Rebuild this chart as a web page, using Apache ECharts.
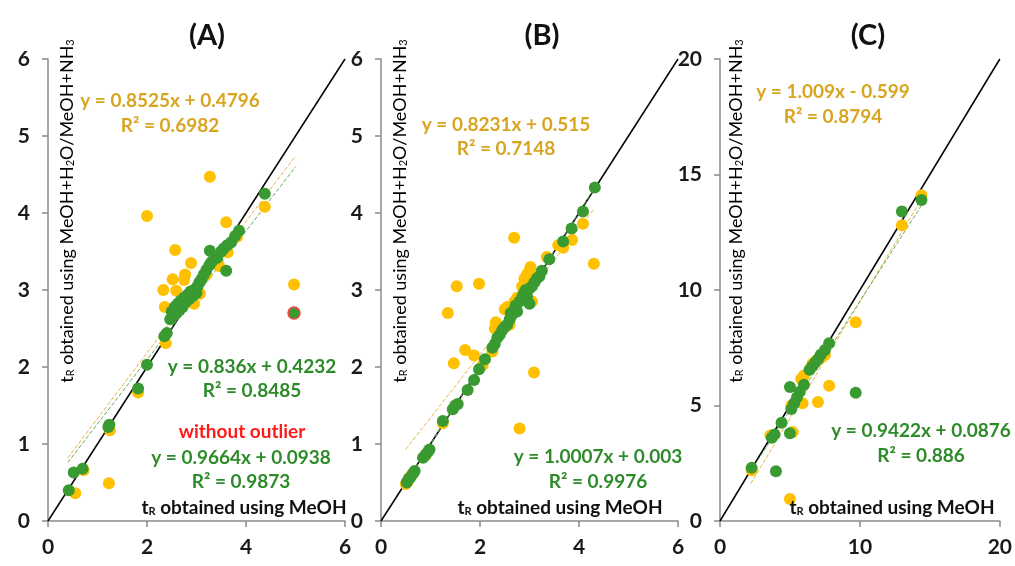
<!DOCTYPE html>
<html>
<head>
<meta charset="utf-8">
<script src="https://cdn.jsdelivr.net/npm/echarts@6/dist/echarts.min.js"></script>
<style>html,body{margin:0;padding:0;background:#fff}#c{width:1015px;height:566px}</style>
</head>
<body>
<div id="c"></div>
<script>
// ---------- data ----------
const panelTitles = ['(A)', '(B)', '(C)'];
const axisMax = [6, 6, 20];
const xTickInterval = [2, 2, 10];
const yTickInterval = [1, 1, 5];

const yellowA = [[0.55,0.36],[0.72,0.66],[1.23,0.49],[1.25,1.18],[1.82,1.67],[2.00,3.96],[2.38,2.31],[2.36,2.78],[2.33,3.00],[2.52,3.14],[2.57,3.52],[2.59,2.99],[2.75,3.13],[2.77,3.20],[2.89,3.35],[2.62,2.72],[2.70,2.80],[2.85,2.85],[2.95,2.82],[3.07,2.95],[3.20,3.20],[3.27,4.47],[3.46,3.31],[3.60,3.88],[3.63,3.49],[3.82,3.69],[4.38,4.08],[4.97,3.07]];
const greenA = [[0.42,0.40],[0.52,0.63],[0.70,0.68],[1.22,1.22],[1.24,1.25],[1.82,1.72],[2.00,2.03],[2.35,2.40],[2.40,2.44],[2.47,2.62],[2.50,2.72],[2.52,2.66],[2.56,2.78],[2.60,2.70],[2.62,2.82],[2.66,2.74],[2.68,2.86],[2.72,2.78],[2.75,2.90],[2.78,2.84],[2.82,2.94],[2.85,2.88],[2.88,2.98],[2.92,2.92],[2.95,3.00],[3.00,2.96],[3.02,3.05],[3.06,3.10],[3.10,3.14],[3.15,3.20],[3.20,3.26],[3.27,3.51],[3.26,3.32],[3.30,3.36],[3.35,3.40],[3.42,3.42],[3.50,3.50],[3.55,3.54],[3.60,3.25],[3.62,3.58],[3.70,3.62],[3.78,3.70],[3.86,3.77],[4.38,4.25]];
const greenAOutlier = [[4.97,2.70]];

const yellowB = [[0.50,0.48],[0.55,0.52],[0.62,0.60],[0.90,0.85],[1.25,1.27],[1.35,2.70],[1.47,2.05],[1.53,3.05],[1.70,2.22],[1.88,2.15],[1.98,3.08],[2.05,2.02],[2.25,2.20],[2.30,2.50],[2.32,2.58],[2.40,2.45],[2.50,2.75],[2.55,2.78],[2.60,2.55],[2.70,2.85],[2.69,3.68],[2.75,2.90],[2.80,1.20],[2.85,3.05],[2.90,3.15],[2.95,3.20],[3.00,3.25],[3.02,3.30],[3.05,2.85],[3.09,1.93],[3.20,3.20],[3.35,3.43],[3.58,3.58],[3.68,3.55],[3.86,3.65],[4.08,3.86],[4.30,3.34]];
const greenB = [[0.52,0.50],[0.56,0.55],[0.60,0.57],[0.65,0.62],[0.68,0.65],[0.85,0.82],[0.90,0.86],[0.95,0.90],[0.98,0.93],[1.25,1.30],[1.45,1.45],[1.50,1.50],[1.55,1.52],[1.75,1.70],[1.88,1.83],[1.98,1.97],[2.10,2.10],[2.25,2.25],[2.30,2.30],[2.35,2.38],[2.40,2.42],[2.45,2.48],[2.50,2.52],[2.55,2.55],[2.60,2.62],[2.62,2.70],[2.65,2.68],[2.70,2.75],[2.72,2.80],[2.75,2.72],[2.80,2.85],[2.85,2.90],[2.88,2.95],[2.92,3.00],[2.95,2.92],[3.00,2.82],[3.00,3.02],[3.05,3.05],[3.10,3.10],[3.15,3.15],[3.20,3.18],[3.25,3.25],[3.40,3.40],[3.68,3.63],[3.85,3.80],[4.08,4.02],[4.32,4.33]];

const yellowC = [[2.26,2.20],[3.60,3.70],[5.00,0.95],[5.20,3.85],[5.10,5.00],[5.90,5.10],[5.80,6.15],[6.00,6.30],[6.60,6.80],[6.80,6.90],[7.00,5.15],[7.30,7.10],[7.80,5.85],[7.50,7.20],[9.70,8.60],[13.00,12.80],[14.40,14.10]];
const greenC = [[2.26,2.30],[3.70,3.60],[3.90,3.75],[4.00,2.15],[4.40,4.25],[5.00,3.80],[5.10,4.85],[5.30,5.10],[5.50,5.35],[5.70,5.60],[5.00,5.80],[6.00,5.90],[6.40,6.55],[6.60,6.70],[6.80,6.85],[7.00,7.00],[7.20,7.20],[7.50,7.40],[7.80,7.70],[9.70,5.55],[13.00,13.40],[14.40,13.90]];

// trend-line end points
const trendYellowA = [[0.40,0.82],[5.00,4.74]];
const trendGreenA  = [[0.40,0.76],[5.00,4.60]];
const trendYellowB = [[0.50,0.93],[4.30,4.05]];
const trendGreenB  = [[0.50,0.50],[4.32,4.33]];
const trendYellowC = [[2.20,1.62],[14.40,13.93]];
const trendGreenC  = [[2.20,2.16],[14.40,13.66]];
// 1:1 lines
const identityA = [[0,0],[6,6]];
const identityB = [[0,0],[6,6]];
const identityC = [[0,0],[20,20]];

const eqYellow = [['y = 0.8525x + 0.4796','R² = 0.6982'],['y = 0.8231x + 0.515','R² = 0.7148'],['y = 1.009x - 0.599','R² = 0.8794']];
const eqGreen = [['y = 0.836x + 0.4232','R² = 0.8485'],['y = 1.0007x + 0.003','R² = 0.9976'],['y = 0.9422x + 0.0876','R² = 0.886']];
const eqOutlier = ['without outlier','y = 0.9664x + 0.0938','R² = 0.9873'];

// ---------- layout / style ----------
const FONT = 'Lato';
const YEL = '#FFC000', GRN = '#3A9A32';
const YEL_T = '#D9A520', GRN_T = '#2E8B2A';
const grids = [
  {left:48, top:59, width:297, height:462},
  {left:381, top:59, width:297, height:462},
  {left:720, top:59, width:280, height:462}
];
const axCol = '#8a8a8a';

const xAxis = [], yAxis = [], series = [];
const sets = [
  [yellowA, greenA, trendYellowA, trendGreenA, identityA],
  [yellowB, greenB, trendYellowB, trendGreenB, identityB],
  [yellowC, greenC, trendYellowC, trendGreenC, identityC]
];
for (let i = 0; i < 3; i++) {
  const common = {
    gridIndex:i, type:'value', min:0, max:axisMax[i],
    splitLine:{show:false},
    axisLine:{show:true, lineStyle:{color:axCol, width:1.5}},
    axisTick:{show:true, length:6, lineStyle:{color:axCol, width:1.5}},
    axisLabel:{fontFamily:FONT, fontWeight:'bold', fontSize:21, color:'#1a1a1a'}
  };
  xAxis.push(Object.assign({}, common, {interval:xTickInterval[i], axisLabel:Object.assign({}, common.axisLabel, {margin:16})}));
  yAxis.push(Object.assign({}, common, {interval:yTickInterval[i], axisLabel:Object.assign({}, common.axisLabel, {margin:18})}));
  const [yel, grn, ty, tg, id] = sets[i];
  series.push({type:'line', xAxisIndex:i, yAxisIndex:i, data:id, symbol:'none', silent:true,
    lineStyle:{color:'#000', width:1.5}, z:2});
  series.push({type:'line', xAxisIndex:i, yAxisIndex:i, data:ty, symbol:'none',
    lineStyle:{color:'#E8B43A', width:1, type:[4,2]}, z:3});
  series.push({type:'line', xAxisIndex:i, yAxisIndex:i, data:tg, symbol:'none',
    lineStyle:{color:'#5FAF55', width:1, type:[4,2]}, z:3});
  series.push({type:'scatter', xAxisIndex:i, yAxisIndex:i, data:yel, symbolSize:12,
    itemStyle:{color:YEL, opacity:1}, z:4});
  series.push({type:'scatter', xAxisIndex:i, yAxisIndex:i, data:grn, symbolSize:12,
    itemStyle:{color:GRN, opacity:1}, z:5});
}
series.push({type:'scatter', xAxisIndex:0, yAxisIndex:0, data:greenAOutlier, symbolSize:12,
  itemStyle:{color:GRN, borderColor:'#ff4040', borderWidth:1.5, opacity:1}, z:6});

// ---------- texts ----------
const graphic = [];
function txt(x, y, text, size, color, weight, align) {
  graphic.push({type:'text', x:x, y:y, z:100, style:{text:text, fill:color, fontFamily:FONT,
    fontSize:size, fontWeight:weight||'bold', align:align||'center', verticalAlign:'middle'}});
}
const titleX = [207, 542, 868];
for (let i = 0; i < 3; i++) txt(titleX[i], 36, panelTitles[i], 29, '#111');

// equations
txt(170, 101, eqYellow[0][0], 19, YEL_T); txt(170, 126, eqYellow[0][1], 19, YEL_T);
txt(252, 367, eqGreen[0][0], 19, GRN_T); txt(252, 391, eqGreen[0][1], 19, GRN_T);
txt(242, 432, eqOutlier[0], 19, '#FF1A1A');
txt(241, 458, eqOutlier[1], 19, GRN_T); txt(241, 482, eqOutlier[2], 19, GRN_T);

txt(506, 125, eqYellow[1][0], 19, YEL_T); txt(506, 149, eqYellow[1][1], 19, YEL_T);
txt(598, 457, eqGreen[1][0], 19, GRN_T); txt(598, 482, eqGreen[1][1], 19, GRN_T);

txt(833, 92, eqYellow[2][0], 19, YEL_T); txt(833, 117, eqYellow[2][1], 19, YEL_T);
txt(921, 431, eqGreen[2][0], 19, GRN_T); txt(921, 456, eqGreen[2][1], 19, GRN_T);

// x-axis titles (t_R with subscript)
const xTitleX = [244, 560, 892];
for (let i = 0; i < 3; i++) {
  graphic.push({type:'text', x:xTitleX[i], y:506, z:100, style:{
    text:'{a|t}{s|R}{a| obtained using MeOH}', align:'center', verticalAlign:'middle',
    rich:{a:{fontFamily:FONT, fontWeight:'bold', fontSize:19, fill:'#111', lineHeight:22, verticalAlign:'bottom'},
          s:{fontFamily:FONT, fontWeight:'bold', fontSize:11, fill:'#111', lineHeight:6, verticalAlign:'bottom'}}
  }});
}
// y-axis titles (rotated)
const yTitleX = [65, 398, 734];
for (let i = 0; i < 3; i++) {
  graphic.push({type:'text', x:yTitleX[i], y:211, rotation:Math.PI/2, z:100, style:{
    text:'{a|t}{s|R}{a| obtained using MeOH+H}{s|2}{a|O/MeOH+NH}{s|3}', align:'center', verticalAlign:'middle',
    rich:{a:{fontFamily:FONT, fontWeight:'normal', fontSize:18, fill:'#000', lineHeight:22, verticalAlign:'bottom'},
          s:{fontFamily:FONT, fontWeight:'normal', fontSize:11, fill:'#000', lineHeight:6, verticalAlign:'bottom'}}
  }});
}

const chart = echarts.init(document.getElementById('c'), null, {renderer:'canvas'});
chart.setOption({
  animation:false,
  backgroundColor:'#fff',
  grid:grids,
  xAxis:xAxis,
  yAxis:yAxis,
  series:series,
  graphic:graphic
});
</script>
</body>
</html>
